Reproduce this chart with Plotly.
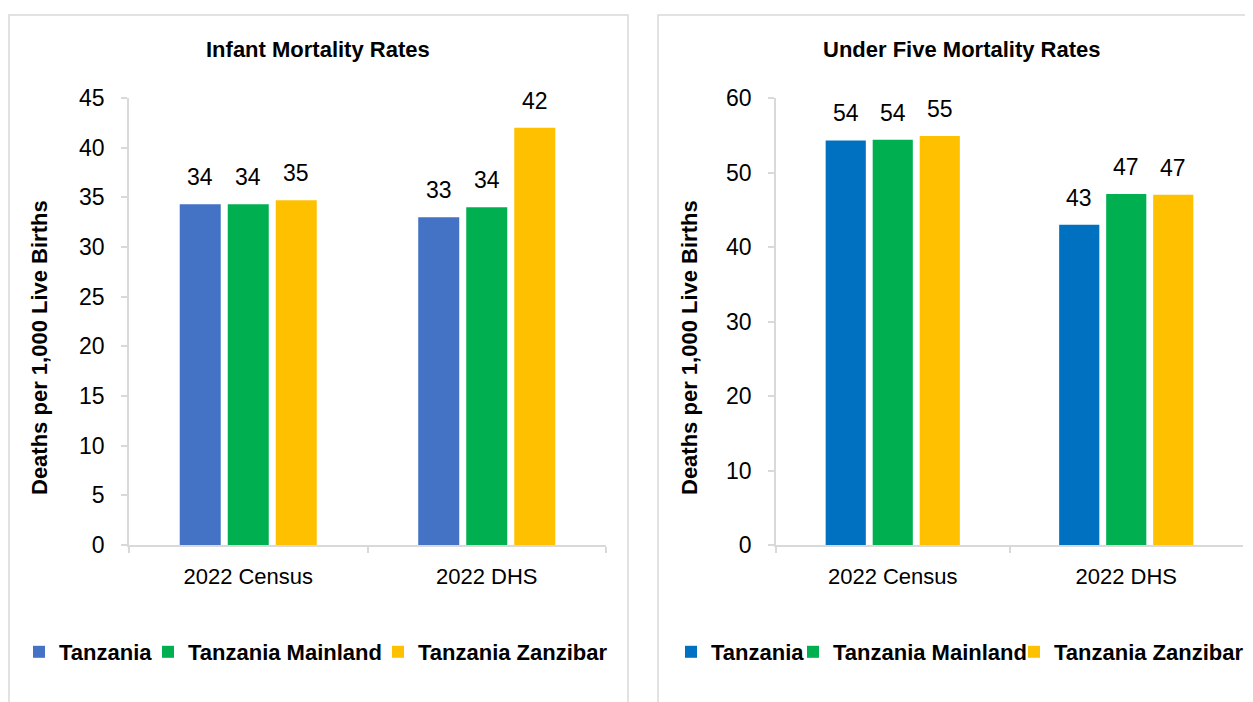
import plotly.graph_objects as go

categories = ["2022 Census", "2022 DHS"]
series_names = ["Tanzania", "Tanzania Mainland", "Tanzania Zanzibar"]

infant_tanzania = [34.3, 33.0]
infant_mainland = [34.3, 34.0]
infant_zanzibar = [34.7, 42.0]

under5_tanzania = [54.3, 43.0]
under5_mainland = [54.4, 47.1]
under5_zanzibar = [54.9, 47.0]

infant_colors = ["#4472C4", "#00B050", "#FFC000"]
under5_colors = ["#0070C0", "#00B050", "#FFC000"]

titles = ["Infant Mortality Rates", "Under Five Mortality Rates"]
y_title = "Deaths per 1,000 Live Births"

FONT = "Liberation Sans, Arial, sans-serif"
OFF = 8  # page body margin
W, H = 1253 - OFF, 702 - OFF
BARGAP = 0.396
GROUPGAP = 0.146


def px(x):
    return (x - OFF) / W


def py(y):
    return 1 - (y - OFF) / H


fig = go.Figure()

panels = [
    dict(vals=[infant_tanzania, infant_mainland, infant_zanzibar], colors=infant_colors,
         xa="x", ya="y", legends=["legend", "legend2", "legend3"],
         legend_text_x=[60, 189, 419]),
    dict(vals=[under5_tanzania, under5_mainland, under5_zanzibar], colors=under5_colors,
         xa="x2", ya="y2", legends=["legend4", "legend5", "legend6"],
         legend_text_x=[712, 834, 1055]),
]

annotations = []
legend_layout = {}
for p in panels:
    for i, (name, vals, col) in enumerate(zip(series_names, p["vals"], p["colors"])):
        fig.add_trace(go.Bar(
            x=categories, y=vals, name=name, marker_color=col,
            xaxis=p["xa"], yaxis=p["ya"], legend=p["legends"][i],
            marker_line_width=0, hoverinfo="x+y+name",
        ))
        legend_layout[p["legends"][i]] = dict(
            orientation="h", x=px(p["legend_text_x"][i] - 41), y=py(652),
            xanchor="left", yanchor="middle", bgcolor="rgba(0,0,0,0)",
            font=dict(family=FONT, size=22, color="#000000", weight="bold"),
        )
        slot = (1 - BARGAP) / 3
        for j, v in enumerate(vals):
            annotations.append(dict(
                x=j + (i - 1) * slot, y=v, xref=p["xa"], yref=p["ya"],
                text=str(round(v)), showarrow=False, xanchor="center", yanchor="bottom",
                yshift=12, font=dict(family=FONT, size=23, color="#000000"),
            ))

title_font = dict(family=FONT, size=22, color="#000000")
annotations += [
    dict(x=px(318), y=py(50), xref="paper", yref="paper", text="<b>" + titles[0] + "</b>",
         xanchor="center", yanchor="middle", showarrow=False, font=title_font),
    dict(x=px(962), y=py(50), xref="paper", yref="paper", text="<b>" + titles[1] + "</b>",
         xanchor="center", yanchor="middle", showarrow=False, font=title_font),
    dict(x=px(40), y=py(348), xref="paper", yref="paper", text="<b>" + y_title + "</b>",
         xanchor="center", yanchor="middle", textangle=-90, showarrow=False, font=title_font),
    dict(x=px(690), y=py(348), xref="paper", yref="paper", text="<b>" + y_title + "</b>",
         xanchor="center", yanchor="middle", textangle=-90, showarrow=False, font=title_font),
]

shapes = [
    dict(type="rect", xref="paper", yref="paper", x0=px(9), x1=px(628), y0=-0.2, y1=py(15),
         line=dict(color="#d9d9d9", width=1.5), layer="below"),
    dict(type="rect", xref="paper", yref="paper", x0=px(658), x1=1.2, y0=-0.2, y1=py(15),
         line=dict(color="#d9d9d9", width=1.5), layer="below"),
]

axis_common_x = dict(showline=True, linecolor="#d9d9d9", linewidth=1.5, ticks="outside",
                     tickson="boundaries", ticklen=6, tickcolor="#d9d9d9", tickwidth=1.5,
                     showgrid=False, zeroline=False, automargin=False,
                     tickfont=dict(family=FONT, size=22, color="#000000"),
                     ticklabelstandoff=11, fixedrange=True)
axis_common_y = dict(showline=True, linecolor="#d9d9d9", linewidth=1.5, ticks="outside",
                     ticklen=6, tickcolor="#d9d9d9", tickwidth=1.5, showgrid=False,
                     zeroline=False, automargin=False,
                     tickfont=dict(family=FONT, size=23, color="#000000"),
                     ticklabelstandoff=12, fixedrange=True)

fig.update_layout(
    template="none",
    width=W, height=H,
    margin=dict(l=0, r=0, t=0, b=0, pad=0),
    paper_bgcolor="white", plot_bgcolor="white",
    barmode="group", bargap=BARGAP, bargroupgap=GROUPGAP,
    font=dict(family=FONT, color="#000000"),
    xaxis=dict(domain=[px(129), px(606)], anchor="y", **axis_common_x),
    yaxis=dict(domain=[py(545), py(98)], anchor="x", range=[0, 45], dtick=5, **axis_common_y),
    xaxis2=dict(domain=[px(776), px(1243)], anchor="y2", **axis_common_x),
    yaxis2=dict(domain=[py(545), py(98)], anchor="x2", range=[0, 60], dtick=10, **axis_common_y),
    annotations=annotations,
    shapes=shapes,
    showlegend=True,
    **legend_layout,
)

fig.write_html("out.html")
